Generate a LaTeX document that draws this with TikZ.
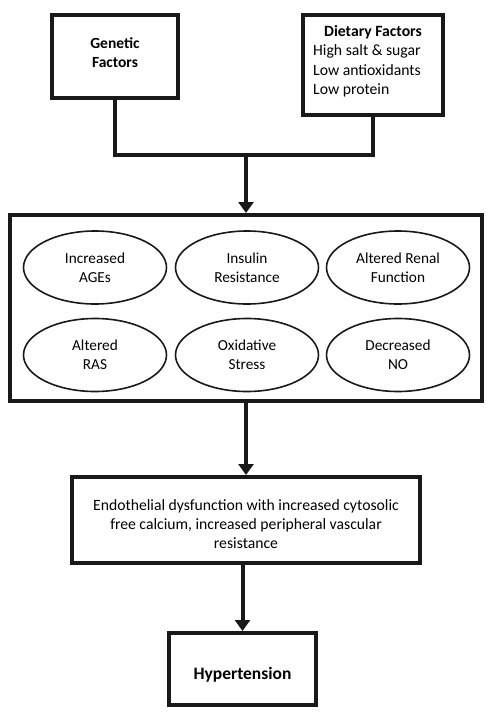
\documentclass[tikz,border=0pt]{standalone}
\usepackage{fontspec}
\setmainfont{Carlito}
\usetikzlibrary{arrows.meta,shapes.geometric}
\tikzset{
	factorbox/.style={draw=black!90, line width=4pt, rectangle, inner sep=0pt, align=center},
	effectoval/.style={draw=black!90, line width=1.6pt, ellipse, inner sep=0pt, minimum width=143pt, minimum height=73pt, align=center, font=\fontsize{15.3}{19}\selectfont},
	link/.style={draw=black!90, line width=4pt},
	flow/.style={draw=black!90, line width=4pt, -{Triangle[length=11pt,width=15pt]}}
}

\begin{document}
\begin{tikzpicture}[x=1pt, y=-1pt]
		%%%%% START %%%%%
		\useasboundingbox (0, 0) rectangle (492, 714);
		
		\node[factorbox, minimum width=126pt, minimum height=83pt, font=\fontsize{15.5}{19}\selectfont\bfseries] (genetic) at (115, 56.5) {Genetic\\Factors\rule[-7pt]{0pt}{0pt}};
		\node[factorbox, minimum width=140pt, minimum height=100pt, font=\fontsize{15.7}{19.5}\selectfont] (dietary) at (373, 65)
			{\begin{tabular}{@{}l@{\hspace{12pt}}}\multicolumn{1}{@{}c@{}}{\bfseries Dietary Factors}\\High salt \& sugar\\Low antioxidants\\Low protein\end{tabular}\\[6pt]};
		
		\coordinate (join) at (246, 155);
		\draw[link] (genetic.south) |- (join) -| (dietary.south);
		
		\node[factorbox, minimum width=472pt, minimum height=186pt] (mediators) at (246, 308) {};
		\draw[flow] (join) -- (mediators.north);
		
		\node[effectoval] (ages) at (95, 267.5) {Increased\\AGEs};
		\node[effectoval] (insulin) at (247, 267.5) {Insulin\\Resistance};
		\node[effectoval] (renal) at (398, 267.5) {Altered Renal\\Function};
		\node[effectoval] (ras) at (95, 355) {Altered\\RAS};
		\node[effectoval] (oxidative) at (247, 355) {Oxidative\\Stress};
		\node[effectoval] (no) at (398, 355) {Decreased\\NO};
		
		\node[factorbox, minimum width=348pt, minimum height=86pt, font=\fontsize{15.7}{19}\selectfont] (endothelial) at (246, 520)
			{\rule{0pt}{20pt}Endothelial dysfunction with increased cytosolic\\free calcium, increased peripheral vascular\\resistance};
		\draw[flow] (mediators.south) -- (endothelial.north);
		
		\node[factorbox, minimum width=147pt, minimum height=72pt, text height=20pt, text depth=0pt, font=\fontsize{17.5}{19}\selectfont\bfseries] (hypertension) at (242.5, 669) {Hypertension};
		\draw[flow] (hypertension.north |- endothelial.south) -- (hypertension.north);
		
		%%%%% END %%%%%
	\end{tikzpicture}
\end{document}
